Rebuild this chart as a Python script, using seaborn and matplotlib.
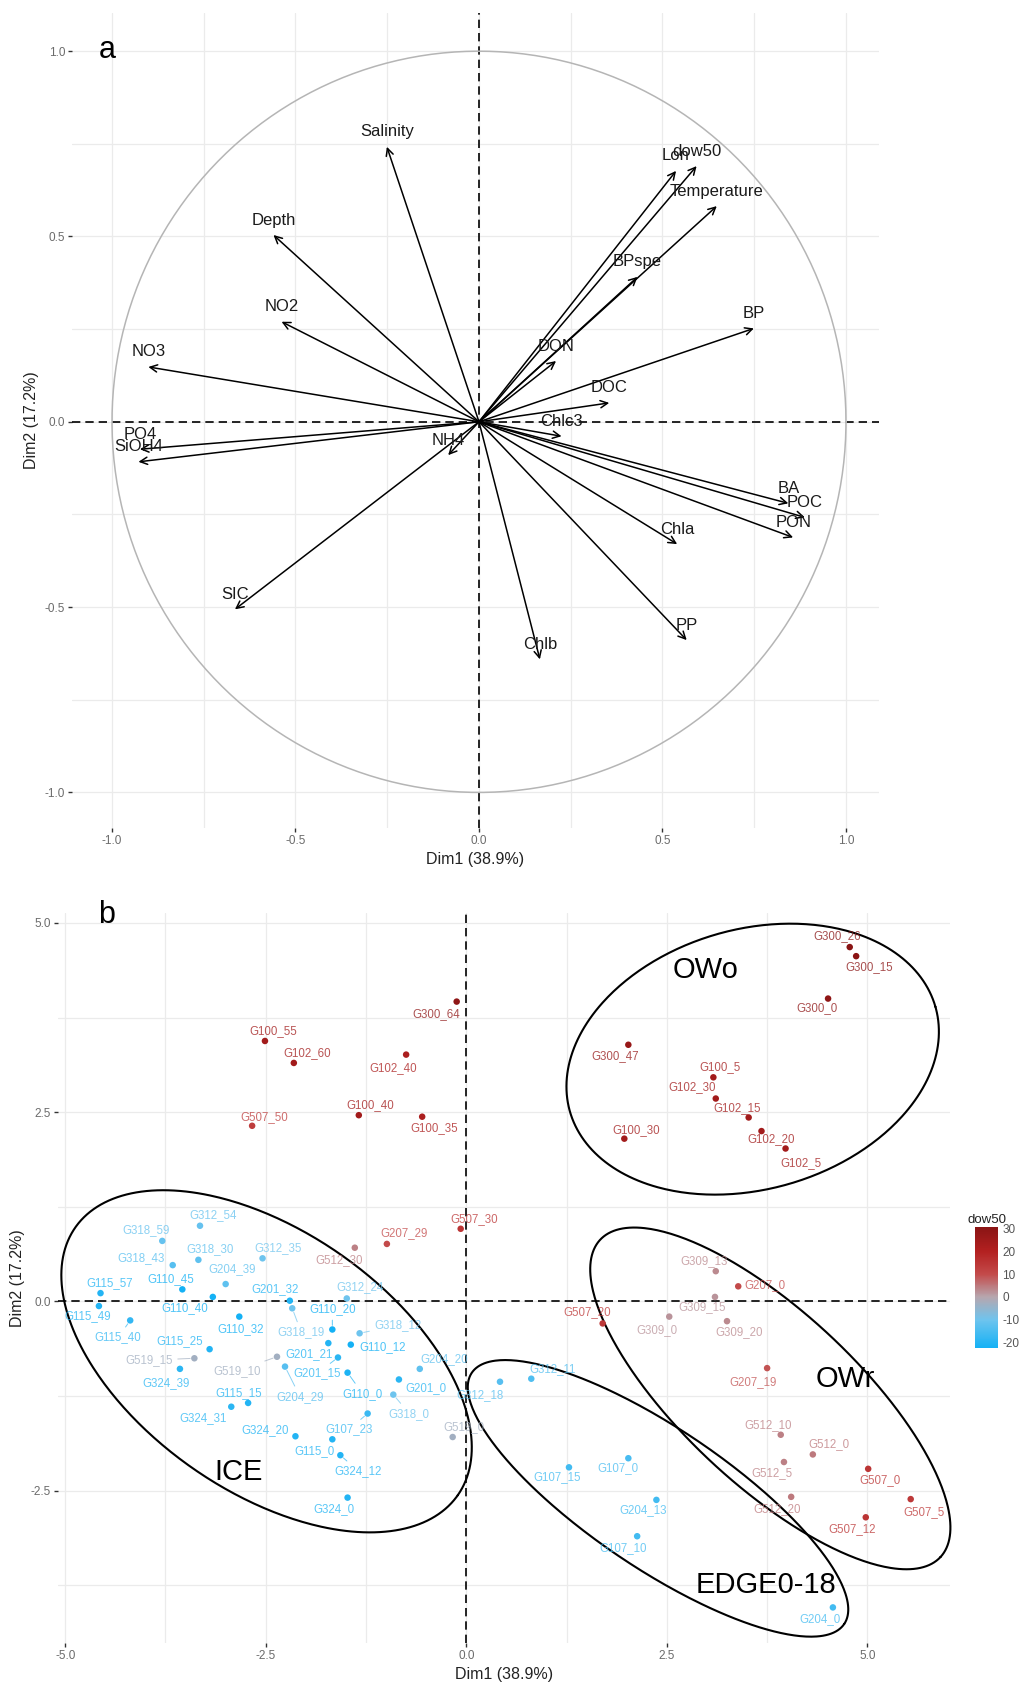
import numpy as np
import pandas as pd
import matplotlib
matplotlib.use("Agg")
import matplotlib.pyplot as plt
import seaborn as sns
from matplotlib.colors import LinearSegmentedColormap, Normalize
from matplotlib.cm import ScalarMappable

# ---------------- data: panel a (variables) ----------------
var_names = ["Salinity", "Depth", "NO2", "NO3", "PO4", "SiOH4", "NH4", "SIC",
             "Lon", "dow50", "Temperature", "BPspe", "BP", "DON", "DOC", "Chlc3",
             "BA", "POC", "PON", "Chla", "PP", "Chlb"]
var_dim1 = [-0.251, -0.560, -0.538, -0.901, -0.924, -0.928, -0.084, -0.665,
            0.537, 0.593, 0.648, 0.432, 0.749, 0.210, 0.355, 0.225,
            0.843, 0.888, 0.856, 0.540, 0.566, 0.166]
var_dim2 = [0.742, 0.504, 0.270, 0.148, -0.074, -0.108, -0.090, -0.506,
            0.677, 0.690, 0.582, 0.391, 0.252, 0.164, 0.051, -0.039,
            -0.220, -0.258, -0.312, -0.330, -0.589, -0.641]

# ---------------- data: panel b (individuals) ----------------
ind_names = ["G300_64", "G100_55", "G102_60", "G102_40", "G100_40", "G100_35", "G507_50",
             "G507_30", "G207_29", "G512_30",
             "G312_54", "G318_59", "G318_30", "G312_35", "G318_43", "G204_39", "G110_45",
             "G115_57", "G110_40", "G115_49", "G115_40", "G201_32", "G318_19", "G312_24",
             "G110_20", "G110_32", "G318_12", "G115_25", "G110_12", "G201_21", "G201_15",
             "G519_15", "G519_10", "G324_39", "G204_29", "G110_0", "G204_20", "G201_0",
             "G318_0", "G115_15", "G324_31", "G107_23", "G519_0", "G324_20", "G115_0",
             "G324_12", "G324_0",
             "G312_18", "G312_11", "G107_15", "G107_0", "G204_13", "G107_10", "G204_0",
             "G309_13", "G207_0", "G309_15", "G507_20", "G309_0", "G309_20", "G207_19",
             "G512_10", "G512_0", "G512_5", "G507_0", "G512_20", "G507_5", "G507_12",
             "G300_26", "G300_15", "G300_0", "G300_47", "G100_5", "G102_30", "G102_15",
             "G102_20", "G102_5", "G100_30"]
ind_dim1 = [-0.12, -2.51, -2.15, -0.75, -1.34, -0.55, -2.67,
            -0.07, -0.99, -1.39,
            -3.32, -3.79, -3.34, -2.54, -3.66, -3.00, -3.54,
            -4.56, -3.16, -4.58, -4.19, -2.20, -2.17, -1.49,
            -1.67, -2.83, -1.33, -3.20, -1.44, -1.72, -1.60,
            -3.39, -2.36, -3.57, -2.26, -1.48, -0.58, -0.84,
            -0.91, -2.72, -2.93, -1.23, -0.17, -2.13, -1.67,
            -1.57, -1.48,
            0.42, 0.81, 1.28, 2.02, 2.37, 2.13, 4.57,
            3.11, 3.39, 3.10, 1.70, 2.53, 3.25, 3.75,
            3.92, 4.32, 3.96, 5.01, 4.05, 5.54, 4.98,
            4.78, 4.86, 4.51, 2.02, 3.08, 3.11, 3.52,
            3.68, 3.98, 1.97]
ind_dim2 = [3.96, 3.44, 3.15, 3.26, 2.46, 2.44, 2.32,
            0.96, 0.76, 0.71,
            1.00, 0.80, 0.55, 0.57, 0.48, 0.23, 0.16,
            0.11, 0.06, -0.06, -0.25, 0.01, -0.09, 0.04,
            -0.37, -0.20, -0.42, -0.63, -0.57, -0.55, -0.74,
            -0.75, -0.73, -0.89, -0.86, -0.94, -0.89, -1.03,
            -1.23, -1.34, -1.39, -1.48, -1.79, -1.78, -1.82,
            -2.03, -2.59,
            -1.06, -1.02, -2.19, -2.07, -2.62, -3.10, -4.04,
            0.40, 0.20, 0.06, -0.29, -0.20, -0.26, -0.88,
            -1.76, -2.02, -2.12, -2.21, -2.58, -2.61, -2.85,
            4.68, 4.56, 4.00, 3.39, 2.96, 2.68, 2.43,
            2.25, 2.02, 2.15]
ind_dow50 = [29, 24, 24, 22, 24, 22, 13,
             15, 10, 4,
             -11, -11, -12, -10, -13, -12, -22,
             -20, -22, -20, -18, -20, -10, -10,
             -22, -22, -10, -20, -22, -20, -19,
             -3, -3, -19, -13, -21, -12, -19,
             -10, -20, -19, -17, -3, -20, -20,
             -20, -20,
             -13, -14, -16, -15, -16, -16, -16,
             3, 10, 2, 14, 2, 3, 9,
             4, 5, 4, 15, 5, 14, 15,
             30.6, 30, 29, 27, 24, 24, 24,
             24, 24, 24]

# label offsets in pixels (dx right, dy down) and whether a repel segment is drawn
label_offsets = [(-20, 12), (8, -10), (13, -10), (-13, 13), (11, -10), (12, 11), (12, -9),
                 (14, -10), (17, -11), (-16, 12),
                 (13, -11), (-16, -11), (12, -11), (16, -10), (-32, -7), (6, -15), (-12, -10),
                 (9, -10), (-28, 11), (-11, 10), (-12, 17), (-15, -12), (9, 24), (13, -11),
                 (0, -20), (1, 12), (38, -8), (-30, -8), (32, 2), (-19, 11), (-21, 16),
                 (-45, 2), (-40, 14), (-14, 14), (15, 30), (15, 21), (24, -10), (27, 9),
                 (16, 19), (-9, -10), (-28, 11), (-19, 16), (11, -10), (-30, -6), (-18, 12),
                 (18, 16), (-14, 11),
                 (-20, 13), (21, -10), (-12, 10), (-10, 10), (-13, 10), (-14, 12), (-13, 12),
                 (-12, -10), (27, -1), (-13, 10), (-15, -11), (-12, 13), (12, 11), (-14, 14),
                 (-13, -10), (16, -10), (-12, 11), (12, 11), (-14, 12), (13, 13), (-14, 12),
                 (-13, -11), (13, 11), (-11, 10), (-13, 11), (7, -10), (-24, -11), (-12, -9),
                 (10, 8), (15, 15), (12, -9)]
segment_names = {"G115_40", "G318_19", "G110_20", "G318_12", "G201_15", "G519_15",
                 "G519_10", "G204_29", "G110_0", "G318_0", "G107_23", "G324_12"}

# group ellipses: name, centre (dim1, dim2), semi-axes (dim1 units), angle (deg), label position
groups = ["OWo", "OWr", "ICE", "EDGE0-18"]
group_center = [(3.57, 3.20), (3.79, -1.28), (-2.49, -0.79), (2.39, -2.60)]
group_axes = [(2.37, 1.62), (2.90, 1.08), (2.91, 1.62), (2.80, 0.87)]
group_angle = [16, -43, -35, -34]
group_label_pos = [(2.98, 4.38), (4.73, -1.03), (-2.84, -2.25), (3.73, -3.74)]

cbar_ticks = [-20, -10, 0, 10, 20, 30]

# ---------------- style ----------------
sns.set_theme(style="whitegrid")
plt.rcParams["font.family"] = ["Liberation Sans", "DejaVu Sans"]
plt.rcParams["axes.unicode_minus"] = False

W, H = 1033, 1682
fig = plt.figure(figsize=(W / 100, H / 100), dpi=100)


def frac(l, t, r, b):
    return [l / W, 1 - b / H, (r - l) / W, (b - t) / H]


def style_axes(ax, major, minor):
    ax.set_xticks(major[0])
    ax.set_yticks(major[1])
    ax.set_xticks(minor[0], minor=True)
    ax.set_yticks(minor[1], minor=True)
    ax.grid(True, which="both", color="#EBEBEB", lw=0.9)
    ax.set_axisbelow(True)
    for s in ax.spines.values():
        s.set_visible(False)
    ax.tick_params(which="major", length=3, width=1, color="#333333", direction="out",
                   labelsize=8.5, labelcolor="#6b6b6b", pad=2,
                   bottom=True, left=True)
    ax.tick_params(which="minor", length=0)
    ax.axhline(0, color="black", lw=1.2, ls=(0, (5, 3)), zorder=1)
    ax.axvline(0, color="black", lw=1.2, ls=(0, (5, 3)), zorder=1)


# ---------------- panel a ----------------
axa = fig.add_axes(frac(72, 13, 879, 828))
axa.set_facecolor("white")
axa.set_xlim(-1.109, 1.09)
axa.set_ylim(-1.096, 1.103)
ticks_a = [-1.0, -0.5, 0.0, 0.5, 1.0]
minor_a = [-0.75, -0.25, 0.25, 0.75]
style_axes(axa, (ticks_a, ticks_a), (minor_a, minor_a))
axa.set_xticklabels(["-1.0", "-0.5", "0.0", "0.5", "1.0"])
axa.set_yticklabels(["-1.0", "-0.5", "0.0", "0.5", "1.0"])

theta = np.linspace(0, 2 * np.pi, 400)
axa.plot(np.cos(theta), np.sin(theta), color="#b5b5b5", lw=1.1, zorder=2)

var_df = pd.DataFrame({"name": var_names, "Dim1": var_dim1, "Dim2": var_dim2})
for _, r in var_df.iterrows():
    axa.annotate("", xy=(r.Dim1, r.Dim2), xytext=(0, 0),
                 arrowprops=dict(arrowstyle="->", color="black", lw=1.1,
                                 mutation_scale=13, shrinkA=0, shrinkB=0), zorder=3)
    axa.annotate(r["name"], xy=(r.Dim1, r.Dim2), xytext=(0, 15), textcoords="offset pixels",
                 ha="center", va="center", fontsize=12, color="#1a1a1a", zorder=4)

axa.set_xlabel("Dim1 (38.9%)", fontsize=11.5, color="#222222", labelpad=4)
axa.set_ylabel("Dim2 (17.2%)", fontsize=11.5, color="#222222", labelpad=4)
fig.text(107 / W, 1 - 50 / H, "a", fontsize=22, ha="center", va="center", color="black")

# ---------------- panel b ----------------
cmap = LinearSegmentedColormap.from_list(
    "dow", [(0.0, "#14b1f5"), ((-10 + 22.2) / 52.8, "#6ec4ee"), ((0 + 22.2) / 52.8, "#b7a6ae"),
            ((10 + 22.2) / 52.8, "#c34a4a"), ((20 + 22.2) / 52.8, "#b32020"), (1.0, "#891414")])
norm = Normalize(vmin=-22.2, vmax=30.6)

axb = fig.add_axes(frac(58, 913, 950, 1643))
axb.set_facecolor("white")
axb.set_xlim(-5.09, 6.03)
axb.set_ylim(-4.51, 5.13)
style_axes(axb, ([-5.0, -2.5, 0.0, 2.5, 5.0], [-2.5, 0.0, 2.5, 5.0]),
           ([-3.75, -1.25, 1.25, 3.75], [-3.75, -1.25, 1.25, 3.75]))
axb.set_xticklabels(["-5.0", "-2.5", "0.0", "2.5", "5.0"])
axb.set_yticklabels(["-2.5", "0.0", "2.5", "5.0"])

ind_df = pd.DataFrame({"name": ind_names, "Dim1": ind_dim1, "Dim2": ind_dim2, "dow50": ind_dow50})
sns.scatterplot(data=ind_df, x="Dim1", y="Dim2", hue="dow50", palette=cmap, hue_norm=norm,
                s=22, linewidth=0, legend=False, ax=axb, zorder=4)

for (_, r), (dx, dy) in zip(ind_df.iterrows(), label_offsets):
    col = cmap(norm(r.dow50))
    kw = {}
    if r["name"] in segment_names:
        kw["arrowprops"] = dict(arrowstyle="-", color=col, lw=0.7, alpha=0.7,
                                shrinkA=1, shrinkB=3)
    axb.annotate(r["name"], xy=(r.Dim1, r.Dim2), xytext=(dx, -dy), textcoords="offset pixels",
                 ha="center", va="center", fontsize=8.3, color=col, alpha=0.75, zorder=5, **kw)

k = 80.2 / 75.7  # pixel aspect between dim1 and dim2 units
t = np.linspace(0, 2 * np.pi, 400)
for (cx, cy), (a, b), ang, (lx, ly), g in zip(group_center, group_axes, group_angle,
                                                group_label_pos, groups):
    th = np.deg2rad(ang)
    ex = cx + a * np.cos(t) * np.cos(th) - b * np.sin(t) * np.sin(th)
    ey = cy + (a * np.cos(t) * np.sin(th) + b * np.sin(t) * np.cos(th)) * k
    axb.plot(ex, ey, color="black", lw=1.5, zorder=3, clip_on=False)
    axb.text(lx, ly, g, fontsize=21, ha="center", va="center", color="black", zorder=6)

axb.set_xlabel("Dim1 (38.9%)", fontsize=11.5, color="#222222", labelpad=4)
axb.set_ylabel("Dim2 (17.2%)", fontsize=11.5, color="#222222", labelpad=4)
fig.text(107 / W, 1 - 915 / H, "b", fontsize=22, ha="center", va="center", color="black")

# colorbar
cax = fig.add_axes(frac(975, 1226.7, 998, 1348))
cb = fig.colorbar(ScalarMappable(norm=norm, cmap=cmap), cax=cax, ticks=cbar_ticks)
cb.outline.set_visible(False)
cax.tick_params(direction="in", length=4, width=0.8, color="white", labelcolor="#555555",
                labelsize=8.5, left=True, right=True, pad=3)
cax.set_title("dow50", fontsize=9.5, color="#222222", pad=3)

fig.savefig("out.png", dpi=100, facecolor="white")
